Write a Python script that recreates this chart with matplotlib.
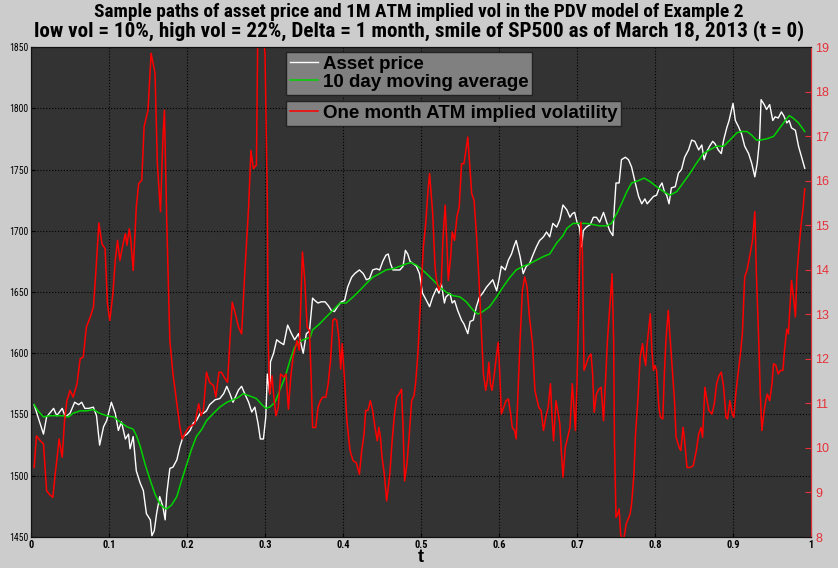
import matplotlib
matplotlib.use('Agg')
import matplotlib.pyplot as plt
from matplotlib import font_manager
from matplotlib.font_manager import FontProperties

FIG_BG = '#cccccc'
AX_BG = '#333333'
RED = '#ff0000'
RED_TICK = '#e8303a'
GREEN = '#00d400'

# asset price path (white)
tPrice = [.004, .016, .020, .029, .033, .040, .044, .050, .056, .061, .065, .069, .074, .080, .084, .088,
          .093, .097, .103, .108, .112, .116, .121, .125, .127, .131, .135, .140, .144, .148, .153, .155,
          .158, .161, .165, .169, .172, .174, .178, .182, .187, .191, .195, .200, .204, .208, .212, .217,
          .221, .225, .229, .236, .242, .247, .251, .255, .259, .266, .270, .274, .279, .283, .287, .291,
          .294, .298, .301, .303, .306, .307, .311, .315, .319, .324, .329, .334, .338, .343, .349, .353,
          .357, .361, .364, .368, .372, .377, .381, .385, .389, .394, .398, .402, .406, .411, .415, .421,
          .426, .430, .434, .438, .443, .447, .451, .455, .458, .461, .464, .468, .473, .477, .480, .483,
          .486, .490, .494, .498, .502, .507, .511, .515, .520, .523, .526, .530, .532, .537, .540, .543,
          .547, .552, .555, .560, .563, .567, .571, .575, .579, .584, .588, .592, .597, .600, .603, .608,
          .612, .616, .619, .622, .627, .631, .635, .639, .644, .648, .652, .657, .661, .665, .669, .674,
          .678, .682, .687, .691, .694, .697, .700, .703, .706, .708, .712, .717, .721, .725, .729, .734,
          .738, .742, .746, .748, .750, .754, .757, .762, .766, .770, .774, .779, .783, .787, .790, .794,
          .798, .802, .806, .809, .812, .815, .818, .821, .826, .830, .834, .838, .843, .847, .851, .856,
          .860, .863, .866, .870, .874, .877, .881, .885, .888, .892, .895, .900, .903, .907, .911, .915,
          .920, .924, .928, .931, .934, .936, .940, .943, .947, .951, .954, .958, .962, .965, .969, .972,
          .975, .980, .984, .988, .992]
price = [1558, 1534, 1548, 1555, 1549, 1555, 1548, 1551, 1560, 1558, 1560, 1555, 1555, 1556, 1549, 1525,
         1540, 1545, 1560, 1551, 1537, 1544, 1530, 1534, 1522, 1532, 1504, 1494, 1488, 1469, 1464, 1451,
         1455, 1469, 1483, 1475, 1464, 1485, 1506, 1507, 1513, 1524, 1532, 1534, 1537, 1543, 1545, 1551,
         1551, 1553, 1558, 1562, 1563, 1567, 1573, 1567, 1560, 1570, 1573, 1567, 1560, 1552, 1556, 1543,
         1530, 1530, 1548, 1583, 1567, 1593, 1600, 1611, 1609, 1607, 1623, 1616, 1611, 1616, 1600, 1616,
         1618, 1645, 1643, 1641, 1642, 1642, 1639, 1635, 1634, 1639, 1642, 1643, 1654, 1662, 1665, 1668,
         1665, 1660, 1661, 1668, 1669, 1668, 1675, 1680, 1681, 1673, 1668, 1668, 1668, 1671, 1684, 1681,
         1675, 1673, 1671, 1665, 1649, 1643, 1638, 1646, 1653, 1649, 1657, 1641, 1646, 1649, 1641, 1643,
         1635, 1627, 1624, 1616, 1626, 1627, 1638, 1646, 1649, 1654, 1657, 1660, 1651, 1660, 1671, 1668,
         1676, 1681, 1687, 1692, 1679, 1665, 1671, 1673, 1681, 1687, 1692, 1695, 1699, 1695, 1706, 1703,
         1709, 1721, 1717, 1711, 1714, 1715, 1707, 1703, 1687, 1700, 1703, 1705, 1711, 1711, 1707, 1715,
         1707, 1700, 1696, 1720, 1739, 1739, 1758, 1760, 1758, 1752, 1741, 1728, 1722, 1726, 1722, 1725,
         1728, 1729, 1736, 1739, 1732, 1729, 1722, 1735, 1736, 1747, 1750, 1760, 1766, 1774, 1773, 1766,
         1770, 1758, 1764, 1769, 1773, 1771, 1766, 1763, 1774, 1784, 1790, 1804, 1790, 1785, 1779, 1769,
         1763, 1755, 1744, 1755, 1774, 1807, 1803, 1799, 1803, 1790, 1793, 1792, 1797, 1794, 1788, 1790,
         1784, 1782, 1769, 1760, 1751]

# 10 day moving average (green)
tAvg = [.004, .009, .016, .024, .033, .041, .048, .054, .063, .071, .080, .088, .097, .106, .114, .123,
        .131, .135, .140, .146, .153, .159, .165, .170, .174, .180, .187, .193, .200, .206, .212, .219,
        .225, .234, .242, .251, .259, .266, .272, .281, .289, .296, .301, .306, .313, .319, .326, .332,
        .338, .343, .349, .358, .361, .370, .379, .387, .396, .404, .413, .421, .430, .438, .447, .455,
        .464, .473, .481, .487, .494, .500, .507, .515, .524, .532, .541, .550, .558, .567, .573, .579,
        .588, .597, .605, .614, .622, .631, .639, .648, .657, .665, .674, .682, .687, .695, .704, .712,
        .721, .729, .738, .744, .751, .757, .764, .770, .779, .786, .794, .802, .811, .819, .828, .836,
        .845, .853, .862, .870, .879, .888, .896, .905, .911, .918, .924, .930, .935, .943, .952, .960,
        .967, .972, .977, .984, .992]
avg = [1558, 1553, 1548, 1549, 1549, 1549, 1548, 1551, 1553, 1553, 1554, 1551, 1549, 1548, 1544, 1540,
       1538, 1533, 1524, 1510, 1496, 1485, 1477, 1474, 1473, 1476, 1483, 1496, 1510, 1522, 1532, 1538,
       1545, 1551, 1556, 1560, 1562, 1564, 1567, 1565, 1563, 1558, 1555, 1556, 1560, 1570, 1581, 1594,
       1605, 1609, 1611, 1613, 1619, 1624, 1630, 1635, 1641, 1641, 1646, 1651, 1657, 1662, 1665, 1668,
       1669, 1671, 1673, 1674, 1672, 1669, 1665, 1660, 1654, 1650, 1647, 1646, 1642, 1635, 1632, 1634,
       1638, 1646, 1654, 1662, 1668, 1671, 1673, 1676, 1679, 1681, 1690, 1696, 1702, 1706, 1706, 1706,
       1705, 1704, 1704, 1706, 1714, 1722, 1732, 1739, 1741, 1743, 1740, 1736, 1732, 1729, 1732, 1739,
       1747, 1755, 1763, 1766, 1769, 1769, 1774, 1780, 1781, 1781, 1778, 1774, 1774, 1775, 1777, 1784,
       1790, 1794, 1792, 1788, 1781]

# one month ATM implied volatility (red, right axis)
tVol = [.004, .007, .012, .016, .020, .024, .028, .031, .034, .036, .040, .043, .046, .050, .054, .059,
        .063, .067, .071, .076, .080, .083, .087, .091, .095, .098, .101, .105, .108, .111, .114, .118,
        .121, .123, .126, .128, .131, .135, .138, .142, .145, .150, .154, .159, .162, .166, .169, .171,
        .174, .178, .182, .187, .191, .194, .197, .202, .206, .210, .215, .218, .221, .225, .229, .234,
        .237, .241, .244, .249, .252, .255, .258, .262, .266, .270, .274, .279, .282, .285, .289, .291,
        .297, .300, .303, .304, .306, .309, .311, .314, .317, .320, .324, .327, .330, .333, .336, .341,
        .344, .348, .351, .354, .357, .359, .361, .365, .368, .371, .374, .378, .381, .384, .387, .389,
        .392, .395, .397, .399, .402, .405, .409, .413, .417, .421, .424, .427, .429, .432, .435, .438,
        .441, .444, .446, .448, .450, .453, .456, .460, .463, .466, .469, .472, .475, .477, .479, .482,
        .485, .488, .491, .493, .496, .499, .503, .506, .509, .511, .515, .518, .520, .523, .526, .528,
        .531, .533, .535, .538, .540, .543, .546, .549, .552, .555, .557, .560, .563, .565, .568, .571,
        .574, .577, .580, .583, .585, .587, .589, .591, .594, .596, .599, .601, .603, .606, .609, .612,
        .615, .617, .620, .622, .624, .627, .630, .633, .636, .639, .643, .646, .649, .651, .654, .657,
        .660, .663, .666, .668, .670, .673, .676, .678, .680, .682, .685, .688, .691, .694, .698, .700,
        .703, .705, .707, .709, .712, .715, .718, .720, .722, .725, .728, .731, .734, .737, .739, .742,
        .745, .747, .748, .750, .752, .754, .756, .758, .761, .763, .768, .770, .773, .775, .778, .781,
        .784, .786, .788, .790, .794, .796, .798, .800, .802, .805, .807, .810, .812, .814, .817, .819,
        .822, .825, .827, .831, .833, .836, .838, .841, .845, .849, .853, .856, .859, .861, .864, .866,
        .869, .873, .876, .879, .882, .885, .888, .891, .893, .896, .899, .901, .904, .907, .910, .912,
        .915, .918, .922, .925, .928, .930, .933, .935, .937, .940, .942, .944, .947, .950, .952, .955,
        .958, .961, .964, .966, .969, .971, .973, .975, .978, .980, .982, .984, .987, .990, .992]
vol = [9.56, 10.27, 10.16, 10.09, 9.04, 8.95, 8.89, 9.41, 9.86, 10.20, 9.79, 10.61, 11.06, 11.29, 11.14, 11.44,
       12.00, 12.04, 12.71, 12.94, 13.16, 13.91, 15.05, 14.58, 14.47, 13.24, 12.86, 13.46, 14.21, 14.66, 14.21, 14.58,
       14.81, 14.55, 14.92, 14.66, 13.98, 15.41, 15.93, 16.01, 17.21, 17.58, 18.86, 18.41, 16.38, 15.30, 16.91, 17.58,
       15.11, 12.41, 11.66, 10.99, 10.46, 10.20, 10.31, 10.46, 10.50, 10.54, 10.99, 10.72, 10.84, 11.70, 11.47, 11.40,
       11.14, 11.70, 11.70, 11.55, 11.47, 12.41, 13.27, 13.01, 12.71, 12.56, 13.91, 15.41, 16.68, 16.27, 16.35, 19.76,
       19.60, 18.86, 15.56, 12.41, 11.21, 11.62, 11.21, 10.72, 10.91, 11.66, 11.59, 11.66, 10.87, 11.59, 12.04, 12.41,
       12.19, 14.40, 13.76, 12.71, 12.64, 11.66, 10.46, 10.46, 10.91, 11.06, 11.14, 11.14, 11.44, 11.96, 12.86, 12.90,
       12.86, 12.41, 11.77, 12.34, 11.51, 10.61, 9.94, 9.71, 9.67, 9.41, 9.94, 10.31, 10.84, 10.84, 11.06, 10.84,
       10.46, 10.16, 10.46, 10.24, 9.79, 9.41, 8.81, 9.41, 10.16, 10.76, 11.14, 11.21, 11.32, 10.46, 9.26, 9.64,
       10.31, 11.06, 11.17, 11.44, 12.11, 13.16, 14.51, 15.03, 15.78, 16.16, 15.26, 14.06, 13.76, 13.54, 13.69, 14.66,
       15.45, 14.66, 13.76, 14.28, 14.85, 14.66, 15.18, 15.41, 16.38, 16.38, 16.61, 16.98, 16.23, 15.71, 15.56, 14.81,
       13.91, 12.79, 11.66, 11.29, 11.51, 11.92, 11.44, 11.29, 11.66, 11.96, 12.37, 11.66, 10.76, 10.91, 11.06, 11.10,
       10.76, 10.46, 10.39, 10.20, 11.06, 12.41, 13.54, 13.84, 13.61, 12.94, 12.34, 11.29, 11.06, 10.91, 10.84, 10.39,
       10.69, 10.91, 11.44, 10.69, 10.16, 11.06, 10.76, 10.54, 9.90, 9.34, 10.01, 10.24, 10.46, 11.44, 10.39, 11.44,
       13.91, 15.07, 14.36, 11.74, 11.89, 12.04, 12.11, 11.66, 10.80, 11.21, 11.32, 11.36, 10.61, 11.66, 12.41, 13.16,
       13.91, 12.41, 10.16, 8.44, 8.51, 8.63, 8.06, 7.84, 8.06, 8.29, 8.51, 8.74, 9.41, 10.31, 11.06, 12.04,
       12.34, 12.04, 11.85, 12.34, 13.01, 12.19, 11.74, 11.85, 11.74, 10.91, 10.69, 10.65, 11.66, 12.41, 13.09, 12.56,
       11.81, 11.06, 10.24, 10.01, 9.94, 10.46, 10.16, 9.56, 9.56, 9.60, 9.94, 10.31, 10.46, 10.24, 11.36, 11.14,
       10.84, 10.76, 10.99, 11.44, 11.62, 11.70, 11.36, 10.69, 10.65, 11.06, 10.76, 10.69, 11.29, 11.74, 12.19, 12.56,
       13.84, 13.99, 14.36, 14.66, 15.30, 13.91, 12.41, 11.21, 10.39, 10.84, 11.06, 11.21, 11.06, 11.44, 11.89, 11.85,
       11.66, 11.74, 11.74, 12.19, 12.67, 12.56, 13.16, 13.76, 13.31, 12.94, 13.91, 14.36, 14.96, 15.41, 15.82]

xTicks = [0, .1, .2, .3, .4, .5, .6, .7, .8, .9, 1]
xTickLabels = ['0', '0.1', '0.2', '0.3', '0.4', '0.5', '0.6', '0.7', '0.8', '0.9', '1']
priceTicks = [1450, 1500, 1550, 1600, 1650, 1700, 1750, 1800, 1850]
volTicks = [8, 9, 10, 11, 12, 13, 14, 15, 16, 17, 18, 19]

TITLE1 = 'Sample paths of asset price and 1M ATM implied vol in the PDV model of Example 2'
TITLE2 = 'low vol = 10%, high vol = 22%, Delta = 1 month, smile of SP500 as of March 18, 2013 (t = 0)'


def pickFont(cands):
    names = set(f.name for f in font_manager.fontManager.ttflist)
    for c in cands:
        if c in names:
            return c
    return 'DejaVu Sans'


NARROW = pickFont(['Liberation Sans Narrow', 'Roboto Condensed', 'Arial Narrow', 'Liberation Sans'])
SANS = pickFont(['Liberation Sans', 'Arial'])


def fitWidth(fig, txt, targetPx):
    # shrink/grow font so the line spans the same width as in the reference
    fig.canvas.draw()
    w = txt.get_window_extent(fig.canvas.get_renderer()).width
    txt.set_fontsize(txt.get_fontsize() * targetPx / w)


def main():
    W, H = 838.0, 568.0
    fig = plt.figure(figsize=(8.38, 5.68), dpi=100, facecolor=FIG_BG)
    ax1 = fig.add_axes([31 / W, 1 - 537 / H, 780 / W, 490 / H])
    ax1.set_facecolor(AX_BG)
    lPrice, = ax1.plot(tPrice, price, color='white', lw=1.0)
    lAvg, = ax1.plot(tAvg, avg, color=GREEN, lw=1.1)
    ax1.set_xlim(0, 1)
    ax1.set_ylim(1450, 1850)
    ax1.set_xticks(xTicks)
    ax1.set_xticklabels(xTickLabels, fontfamily=NARROW, fontweight='bold', fontsize=7.5)
    ax1.set_yticks(priceTicks)
    ax1.set_yticklabels([str(v) for v in priceTicks], fontfamily=NARROW, fontsize=7)
    ax1.grid(True, color='black', linestyle=':', linewidth=0.8)
    ax1.tick_params(direction='in', length=3, colors='black', pad=2)
    for s in ax1.spines.values():
        s.set_color('#111111')

    ax2 = ax1.twinx()
    lVol, = ax2.plot(tVol, vol, color=RED, lw=1.1)
    ax2.set_ylim(8, 19)
    ax2.set_yticks(volTicks)
    ax2.set_yticklabels([str(v) for v in volTicks], fontfamily=SANS, fontsize=9)
    ax2.tick_params(axis='y', direction='in', length=4, colors=RED_TICK, pad=3)
    ax2.spines['right'].set_color(RED_TICK)
    for k in ['left', 'top', 'bottom']:
        ax2.spines[k].set_color('#111111')

    t1 = fig.text(418.5 / W, 1 - 12 / H, TITLE1, ha='center', va='center', fontsize=13,
                  fontweight='bold', fontfamily=NARROW)
    t2 = fig.text(419 / W, 1 - 31 / H, TITLE2, ha='center', va='center', fontsize=13,
                  fontweight='bold', fontfamily=NARROW)
    fig.text(421 / W, 1 - 557 / H, 't', ha='center', va='center', fontsize=13,
             fontweight='bold', fontfamily=SANS)

    legFp = FontProperties(family=SANS, weight='bold', size=13.5)
    legKw = dict(loc='upper left', prop=legFp, facecolor='#808080', edgecolor='#222222',
                 framealpha=1, fancybox=False, borderpad=0.2, handlelength=1.5,
                 handletextpad=0.25, labelspacing=0.05, borderaxespad=0)
    leg1 = fig.legend([lPrice, lAvg], ['Asset price', '10 day moving average'],
                      bbox_to_anchor=(286 / W, 1 - 52 / H), **legKw)
    leg2 = fig.legend([lVol], ['One month ATM implied volatility'],
                      bbox_to_anchor=(286 / W, 1 - 101 / H), **legKw)
    for leg in (leg1, leg2):
        leg.get_frame().set_linewidth(1.0)

    fitWidth(fig, t1, 643)
    fitWidth(fig, t2, 766)

    fig.savefig('out.png', dpi=100, facecolor=FIG_BG)


if __name__ == '__main__':
    main()
